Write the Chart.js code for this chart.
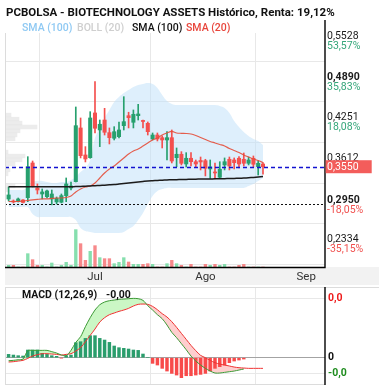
<!DOCTYPE html>
<html>
<head>
<meta charset="utf-8">
<script src="https://cdn.jsdelivr.net/npm/chart.js@4.4.1/dist/chart.umd.min.js"></script>
<style>
html, body { margin: 0; padding: 0; background: #fff; }
#wrap { width: 379px; height: 390px; overflow: hidden; }
canvas { display: block; }
</style>
</head>
<body>
<div id="wrap">
  <canvas id="main" width="379" height="285"></canvas>
  <canvas id="macd" width="379" height="105"></canvas>
</div>
<script>
// PCBOLSA - Biotechnology Assets, daily candles (index = trading day)

const title = 'PCBOLSA - BIOTECHNOLOGY ASSETS Histórico, Renta: 19,12%';
const legendItems = ['SMA (100)', 'BOLL (20)', 'SMA (100)', 'SMA (20)'];
const legendColors = ['#8fc9f3', '#cfcfcf', '#111111', '#e8463c'];

const opens = [0.3042, 0.3011, 0.3003, 0.3027, 0.3063, 0.3609, 0.3216, 0.3121, 0.3079, 0.3043,
  0.2996, 0.2991, 0.3095, 0.3216, 0.3315, 0.4160, 0.3735, 0.3692, 0.4396, 0.4128,
  0.4285, 0.4086, 0.3998, 0.4023, 0.4196, 0.4353, 0.4249, 0.4353, 0.4278, 0.4233,
  0.3987, 0.4049, 0.4007, 0.3971, 0.4007, 0.3692, 0.3746, 0.3593, 0.3683, 0.3629,
  0.3648, 0.3645, 0.3515, 0.3463, 0.3384, 0.3578, 0.3667, 0.3656, 0.3683, 0.3667,
  0.3604, 0.3683, 0.3551, 0.3593];
const highs = [0.3231, 0.3027, 0.3058, 0.3035, 0.3708, 0.3640, 0.3279, 0.3200, 0.3184, 0.3184,
  0.3074, 0.3121, 0.3373, 0.3310, 0.4490, 0.4317, 0.3866, 0.4416, 0.4890, 0.4285,
  0.4469, 0.4160, 0.4180, 0.4254, 0.4652, 0.4407, 0.4443, 0.4532, 0.4285, 0.4254,
  0.4081, 0.4081, 0.4034, 0.4101, 0.4128, 0.3845, 0.3787, 0.3771, 0.3771, 0.3656,
  0.3703, 0.3667, 0.3656, 0.3609, 0.3629, 0.3688, 0.3703, 0.3688, 0.3708, 0.3766,
  0.3703, 0.3719, 0.3645, 0.3614];
const lows = [0.3011, 0.2980, 0.2995, 0.2980, 0.3000, 0.3231, 0.3121, 0.3043, 0.3058, 0.2950,
  0.2964, 0.2980, 0.3000, 0.3184, 0.3310, 0.3688, 0.3625, 0.3683, 0.4081, 0.3866,
  0.4049, 0.3908, 0.3971, 0.4002, 0.4128, 0.4160, 0.4160, 0.4285, 0.4160, 0.4049,
  0.3971, 0.3955, 0.3845, 0.3656, 0.3609, 0.3551, 0.3578, 0.3546, 0.3562, 0.3546,
  0.3499, 0.3405, 0.3365, 0.3357, 0.3373, 0.3499, 0.3499, 0.3515, 0.3530, 0.3562,
  0.3578, 0.3546, 0.3420, 0.3431];
const closes = [0.3106, 0.2995, 0.3043, 0.2988, 0.3551, 0.3247, 0.3184, 0.3153, 0.3169, 0.3121,
  0.3051, 0.3095, 0.3279, 0.3247, 0.4196, 0.3724, 0.3672, 0.4317, 0.4155, 0.4218,
  0.4092, 0.4007, 0.4101, 0.4128, 0.4259, 0.4322, 0.4375, 0.4380, 0.4262, 0.4101,
  0.4049, 0.3987, 0.3971, 0.4007, 0.3640, 0.3746, 0.3604, 0.3683, 0.3629, 0.3593,
  0.3625, 0.3526, 0.3546, 0.3452, 0.3510, 0.3629, 0.3562, 0.3614, 0.3593, 0.3604,
  0.3656, 0.3589, 0.3604, 0.3550];
// volume, thousands of shares
const volumes = [5, 5, 0, 0, 40, 22, 5, 5, 0, 12,
  0, 5, 14, 5, 112, 70, 20, 47, 64, 28,
  25, 25, 10, 14, 28, 15, 8, 8, 8, 10,
  8, 0, 0, 10, 20, 10, 5, 0, 8, 0,
  0, 8, 5, 8, 5, 8, 0, 0, 5, 8,
  0, 0, 0, 0];

const sma20 = [0.3003, 0.3003, 0.3003, 0.3011, 0.3019, 0.3027, 0.3035, 0.3043, 0.3043, 0.3051,
  0.3058, 0.3058, 0.3066, 0.3090, 0.3153, 0.3200, 0.3231, 0.3247, 0.3294, 0.3373,
  0.3452, 0.3515, 0.3562, 0.3625, 0.3688, 0.3751, 0.3798, 0.3829, 0.3876, 0.3924,
  0.3971, 0.4002, 0.4049, 0.4081, 0.4105, 0.4081, 0.4076, 0.4073, 0.4065, 0.4042,
  0.4010, 0.3979, 0.3947, 0.3924, 0.3900, 0.3876, 0.3837, 0.3806, 0.3774, 0.3735,
  0.3703, 0.3672, 0.3648, 0.3617];
const sma100 = [0.3235, 0.3235, 0.3235, 0.3235, 0.3235, 0.3235, 0.3235, 0.3235, 0.3235, 0.3235,
  0.3235, 0.3235, 0.3235, 0.3235, 0.3237, 0.3239, 0.3243, 0.3247, 0.3251, 0.3255,
  0.3260, 0.3265, 0.3270, 0.3278, 0.3286, 0.3294, 0.3302, 0.3310, 0.3318, 0.3326,
  0.3330, 0.3334, 0.3338, 0.3342, 0.3344, 0.3346, 0.3348, 0.3350, 0.3352, 0.3354,
  0.3356, 0.3357, 0.3358, 0.3359, 0.3360, 0.3362, 0.3364, 0.3366, 0.3369, 0.3372,
  0.3376, 0.3382, 0.3389, 0.3397];
const bollUpper = [0.3184, 0.3184, 0.3184, 0.3184, 0.3232, 0.3310, 0.3326, 0.3326, 0.3310, 0.3294,
  0.3294, 0.3310, 0.3310, 0.3342, 0.3389, 0.3467, 0.3530, 0.3656, 0.4002, 0.4160,
  0.4317, 0.4443, 0.4569, 0.4647, 0.4710, 0.4757, 0.4804, 0.4836, 0.4852, 0.4867,
  0.4852, 0.4789, 0.4679, 0.4584, 0.4537, 0.4521, 0.4521, 0.4521, 0.4521, 0.4521,
  0.4521, 0.4521, 0.4521, 0.4521, 0.4506, 0.4474, 0.4396, 0.4270, 0.4175, 0.4097,
  0.4034, 0.3987, 0.3955, 0.3892];
const bollLower = [0.2917, 0.2917, 0.2917, 0.2917, 0.2917, 0.2807, 0.2760, 0.2760, 0.2760, 0.2760,
  0.2760, 0.2760, 0.2760, 0.2760, 0.2712, 0.2587, 0.2539, 0.2524, 0.2508, 0.2508,
  0.2508, 0.2508, 0.2508, 0.2508, 0.2524, 0.2571, 0.2618, 0.2712, 0.2823, 0.2964,
  0.3090, 0.3169, 0.3200, 0.3216, 0.3216, 0.3216, 0.3216, 0.3216, 0.3216, 0.3216,
  0.3216, 0.3216, 0.3216, 0.3216, 0.3216, 0.3216, 0.3216, 0.3216, 0.3216, 0.3216,
  0.3247, 0.3279, 0.3326, 0.3373];

// volume by price (left profile)
const profilePrices = [0.4364, 0.4301, 0.4238, 0.4175, 0.4112, 0.4049, 0.3987, 0.3782, 0.3719, 0.3656,
  0.3593, 0.3499, 0.3436, 0.3247, 0.3184];
const profileVolumes = [6, 14, 17, 32, 15, 12, 10, 3, 20, 17, 10, 5, 3, 10, 4];

const macdLine = [-0.00076, -0.00067, -0.00051, -0.00034, 0.00177, 0.00185, 0.00185, 0.00185, 0.00185, 0.00152,
  0.00118, 0.00067, 0.00051, 0.00185, 0.00387, 0.00530, 0.00783, 0.01010, 0.01204, 0.01338,
  0.01406, 0.01439, 0.01456, 0.01473, 0.01481, 0.01490, 0.01498, 0.01490, 0.01448, 0.01313,
  0.01204, 0.01086, 0.00985, 0.00825, 0.00640, 0.00505, 0.00354, 0.00202, 0.00042, -0.00084,
  -0.00185, -0.00269, -0.00337, -0.00387, -0.00387, -0.00370, -0.00354, -0.00337, -0.00311, -0.00286];
const signalLine = [-0.00109, -0.00101, -0.00084, -0.00067, -0.00017, 0.00042, 0.00076, 0.00101, 0.00101, 0.00093,
  0.00084, 0.00067, 0.00084, 0.00101, 0.00168, 0.00253, 0.00404, 0.00564, 0.00724, 0.00901,
  0.01010, 0.01086, 0.01128, 0.01170, 0.01204, 0.01246, 0.01305, 0.01347, 0.01355, 0.01347,
  0.01296, 0.01212, 0.01111, 0.01027, 0.00909, 0.00766, 0.00614, 0.00463, 0.00311, 0.00177,
  0.00059, 0.00000, -0.00067, -0.00126, -0.00160, -0.00185, -0.00210, -0.00236, -0.00253, -0.00261,
  -0.00269, -0.00269, -0.00269, -0.00269];
const macdHist = [0.00084, 0.00067, 0.00051, 0.00042, 0.00194, 0.00194, 0.00194, 0.00109, 0.00084, 0.00051,
  0.00034, -0.00010, 0.00051, 0.00067, 0.00379, 0.00404, 0.00488, 0.00556, 0.00556, 0.00488,
  0.00446, 0.00387, 0.00295, 0.00253, 0.00236, 0.00219, 0.00194, 0.00185, 0.00093, 0.00000,
  -0.00143, -0.00185, -0.00269, -0.00337, -0.00396, -0.00438, -0.00505, -0.00455, -0.00455, -0.00438,
  -0.00421, -0.00396, -0.00337, -0.00269, -0.00227, -0.00185, -0.00126, -0.00084, -0.00059, -0.00034];

const monthTicks = [18, 41, 62];
const monthLabels = ['Jul', 'Ago', 'Sep'];
const gridPrices = [0.2334, 0.2973, 0.3612, 0.4251, 0.4889, 0.5528];
const axisPrices = [0.5528, 0.4890, 0.4251, 0.3612, 0.2950, 0.2334];
const axisTexts = ['0,5528', '0,4890', '0,4251', '0,3612', '0,2950', '0,2334'];
const axisPcts = ['53,57%', '35,83%', '18,08%', '', '-18,05%', '-35,15%'];
const axisBold = [false, true, false, false, true, false];
const lastPrice = 0.3550;
const lastText = '0,3550';
const minPrice = 0.2950;
const macdTicks = [-0.0039, 0, 0.015];
const macdTickTexts = ['-0,0', '0', '0,0'];
const macdTickColors = ['#1e8c1e', '#111111', '#ee1c1c'];

const UP = '#27a06e';
const DOWN = '#f4504e';
const FONT = 'Roboto, "Noto Sans", sans-serif';

const xMin = -0.75, xMax = 65.92;
const isUp = i => closes[i] >= opens[i];
const pts = arr => arr.map((v, i) => ({x: i, y: v}));

const mainDeco = {
    id: 'mainDeco',
    beforeDraw(chart) {
        const {ctx, chartArea: a} = chart;
        ctx.save();
        ctx.fillStyle = '#fff';
        ctx.fillRect(0, 0, chart.width, chart.height);
        ctx.fillStyle = '#f2f2f2';
        ctx.fillRect(a.left, a.bottom, chart.width - a.left, chart.height - a.bottom);
        ctx.restore();
    },
    afterDatasetsDraw(chart) {
        const {ctx, chartArea: a, scales} = chart;
        const y = scales.y, x = scales.x;
        ctx.save();
        const hline = (yy, x0, x1) => { ctx.beginPath(); ctx.moveTo(x0, yy); ctx.lineTo(x1, yy); ctx.stroke(); };

        // last price and minimum
        ctx.lineWidth = 1.3;
        ctx.strokeStyle = '#1313d0';
        ctx.setLineDash([4, 3]);
        hline(Math.round(y.getPixelForValue(lastPrice)) + 0.5, a.left, a.right);
        ctx.strokeStyle = '#111';
        ctx.lineWidth = 1.2;
        ctx.setLineDash([2, 2]);
        hline(Math.round(y.getPixelForValue(minPrice)) - 0.5, a.left, a.right);
        ctx.setLineDash([]);

        // borders
        ctx.strokeStyle = '#dcdcdc';
        ctx.lineWidth = 1;
        ctx.beginPath(); ctx.moveTo(a.left + 0.5, a.top); ctx.lineTo(a.left + 0.5, a.bottom); ctx.stroke();
        ctx.strokeStyle = '#000';
        ctx.lineWidth = 1.4;
        ctx.beginPath(); ctx.moveTo(a.right, 20); ctx.lineTo(a.right, a.bottom + 0.5); ctx.lineTo(a.left, a.bottom + 0.5); ctx.stroke();

        // right axis labels
        ctx.textBaseline = 'middle';
        ctx.textAlign = 'left';
        axisPrices.forEach((v, i) => {
            const yy = y.getPixelForValue(v);
            ctx.font = (axisBold[i] ? 'bold ' : '') + '10.5px ' + FONT;
            ctx.fillStyle = '#1a1a1a';
            ctx.fillText(axisTexts[i], a.right + 2, yy - 4.5);
            if (axisPcts[i]) {
                ctx.font = '10.5px ' + FONT;
                ctx.fillStyle = v > lastPrice ? '#35a67a' : '#f0504e';
                ctx.fillText(axisPcts[i], a.right + 2, yy + 5.5);
            }
        });
        const yl = y.getPixelForValue(lastPrice);
        ctx.fillStyle = '#f35d5b';
        ctx.fillRect(a.right + 0.7, yl - 6.5, 46, 13);
        ctx.fillStyle = '#fff';
        ctx.font = '10.5px ' + FONT;
        ctx.fillText(lastText, a.right + 2, yl + 0.5);

        // month labels
        ctx.textAlign = 'center';
        ctx.fillStyle = '#333';
        ctx.font = '11.5px ' + FONT;
        monthTicks.forEach((m, i) => ctx.fillText(monthLabels[i], x.getPixelForValue(m), a.bottom + 10));

        // title and legend
        ctx.textAlign = 'left';
        ctx.fillStyle = '#111';
        ctx.font = 'bold 11.5px ' + FONT;
        ctx.fillText(title, 6, 13);
        ctx.font = '500 10.5px ' + FONT;
        const lx = [22, 77, 132, 186];
        legendItems.forEach((t, i) => {
            ctx.fillStyle = legendColors[i];
            ctx.fillText(t, lx[i], 28.5);
        });
        ctx.restore();
    }
};

const macdDeco = {
    id: 'macdDeco',
    beforeDraw(chart) {
        const {ctx} = chart;
        ctx.save();
        ctx.fillStyle = '#fff';
        ctx.fillRect(0, 0, chart.width, chart.height);
        ctx.restore();
    },
    afterDatasetsDraw(chart) {
        const {ctx, chartArea: a, scales: {y}} = chart;
        ctx.save();
        ctx.strokeStyle = '#dcdcdc';
        ctx.lineWidth = 1;
        ctx.beginPath();
        ctx.moveTo(a.left, 2.5); ctx.lineTo(chart.width, 2.5);
        ctx.moveTo(a.left + 0.5, a.top); ctx.lineTo(a.left + 0.5, a.bottom);
        ctx.moveTo(a.left, a.bottom - 0.5); ctx.lineTo(a.right, a.bottom - 0.5);
        ctx.stroke();
        ctx.strokeStyle = '#000';
        ctx.lineWidth = 1.4;
        ctx.beginPath(); ctx.moveTo(a.right, 2); ctx.lineTo(a.right, a.bottom); ctx.stroke();

        ctx.textBaseline = 'middle';
        ctx.textAlign = 'left';
        ctx.font = 'bold 10.5px ' + FONT;
        macdTicks.forEach((v, i) => {
            ctx.fillStyle = macdTickColors[i];
            ctx.fillText(macdTickTexts[i], a.right + 3, y.getPixelForValue(v));
        });
        ctx.fillStyle = '#111';
        ctx.fillText('MACD (12,26,9)', 22, 10.5);
        ctx.fillText('-0,00', 106, 10.5);
        ctx.restore();
    }
};

function setup() {
    const priceMin = gridPrices[5] - (267 - 41) / 635.6;
    const priceMax = gridPrices[5] + (41 - 33) / 635.6;

    new Chart(document.getElementById('main').getContext('2d'), {
        type: 'line',
        data: {
            datasets: [
                {label: 'SMA (100)', data: pts(sma100), borderColor: '#1b1b1b', borderWidth: 1.5,
                    pointRadius: 0, tension: 0.2, order: 1},
                {label: 'SMA (20)', data: pts(sma20), borderColor: 'rgba(228,78,58,0.9)', borderWidth: 1.2,
                    pointRadius: 0, tension: 0.3, order: 2},
                {type: 'bar', label: 'body', data: opens.map((o, i) => ({x: i, y: [o, closes[i]]})),
                    backgroundColor: opens.map((o, i) => isUp(i) ? UP : DOWN),
                    barThickness: 3.4, minBarLength: 1, grouped: false, order: 3},
                {type: 'bar', label: 'wick', data: lows.map((l, i) => ({x: i, y: [l, highs[i]]})),
                    backgroundColor: opens.map((o, i) => isUp(i) ? UP : DOWN),
                    barThickness: 1, grouped: false, order: 4},
                {type: 'bar', label: 'volume', yAxisID: 'yv', data: pts(volumes),
                    backgroundColor: opens.map((o, i) => isUp(i) ? '#86dfae' : '#f7898a'),
                    barThickness: 2.7, grouped: false, order: 5},
                {label: 'BOLL up', data: pts(bollUpper), borderWidth: 0, borderColor: 'rgba(0,0,0,0)',
                    pointRadius: 0, tension: 0.4, fill: '+1', backgroundColor: 'rgba(190,224,250,0.5)', order: 6},
                {label: 'BOLL low', data: pts(bollLower), borderWidth: 0, borderColor: 'rgba(0,0,0,0)',
                    pointRadius: 0, tension: 0.4, fill: false, order: 7},
                {type: 'bar', label: 'profile', indexAxis: 'y', xAxisID: 'xp', yAxisID: 'y',
                    data: profilePrices.map((p, i) => ({x: profileVolumes[i], y: p})),
                    backgroundColor: 'rgba(200,200,200,0.35)', barThickness: 3.6, grouped: false, order: 8}
            ]
        },
        options: {
            responsive: false,
            animation: false,
            events: [],
            layout: {padding: {left: 5, right: 54, top: 33, bottom: 18}},
            plugins: {legend: {display: false}, tooltip: {enabled: false}, filler: {drawTime: 'beforeDatasetsDraw'}},
            scales: {
                x: {type: 'linear', min: xMin, max: xMax, offset: false,
                    border: {display: false}, ticks: {display: false},
                    grid: {color: '#e8e8e8', drawTicks: false},
                    afterBuildTicks: s => { s.ticks = monthTicks.map(v => ({value: v})); }},
                y: {type: 'linear', position: 'right', min: priceMin, max: priceMax, offset: false,
                    border: {display: false}, ticks: {display: false},
                    grid: {color: '#e8e8e8', drawTicks: false},
                    afterBuildTicks: s => { s.ticks = gridPrices.map(v => ({value: v})); }},
                yv: {type: 'linear', display: false, min: 0, max: 702},
                xp: {type: 'linear', display: false, min: 0, max: 320}
            }
        },
        plugins: [mainDeco]
    });

    new Chart(document.getElementById('macd').getContext('2d'), {
        type: 'line',
        data: {
            datasets: [
                {label: 'MACD', data: pts(macdLine), borderColor: '#3c9a36', borderWidth: 1,
                    pointRadius: 0, tension: 0.3, order: 1,
                    fill: {target: '+1', above: 'rgba(160,240,150,0.55)', below: 'rgba(255,165,165,0.55)'}},
                {label: 'Signal', data: pts(signalLine), borderColor: '#f03232', borderWidth: 1,
                    pointRadius: 0, tension: 0.3, fill: false, order: 2},
                {type: 'bar', label: 'Hist', data: pts(macdHist),
                    backgroundColor: macdHist.map(v => v >= 0 ? '#2a9d6c' : '#f84a4a'),
                    barThickness: 2.8, grouped: false, order: 3}
            ]
        },
        options: {
            responsive: false,
            animation: false,
            events: [],
            layout: {padding: {left: 5, right: 54, top: 3, bottom: 5}},
            plugins: {legend: {display: false}, tooltip: {enabled: false}, filler: {drawTime: 'beforeDatasetsDraw'}},
            scales: {
                x: {type: 'linear', min: xMin, max: xMax, offset: false,
                    border: {display: false}, ticks: {display: false},
                    grid: {color: '#e8e8e8', drawTicks: false},
                    afterBuildTicks: s => { s.ticks = monthTicks.map(v => ({value: v})); }},
                y: {type: 'linear', position: 'right', min: -0.006894, max: 0.0176, offset: false,
                    border: {display: false}, ticks: {display: false},
                    grid: {color: c => c.tick && c.tick.value === 0 ? '#a3a3a3' : '#e8e8e8', drawTicks: false},
                    afterBuildTicks: s => { s.ticks = macdTicks.map(v => ({value: v})); }}
            }
        },
        plugins: [macdDeco]
    });
}

window.addEventListener('load', setup);
</script>
</body>
</html>
